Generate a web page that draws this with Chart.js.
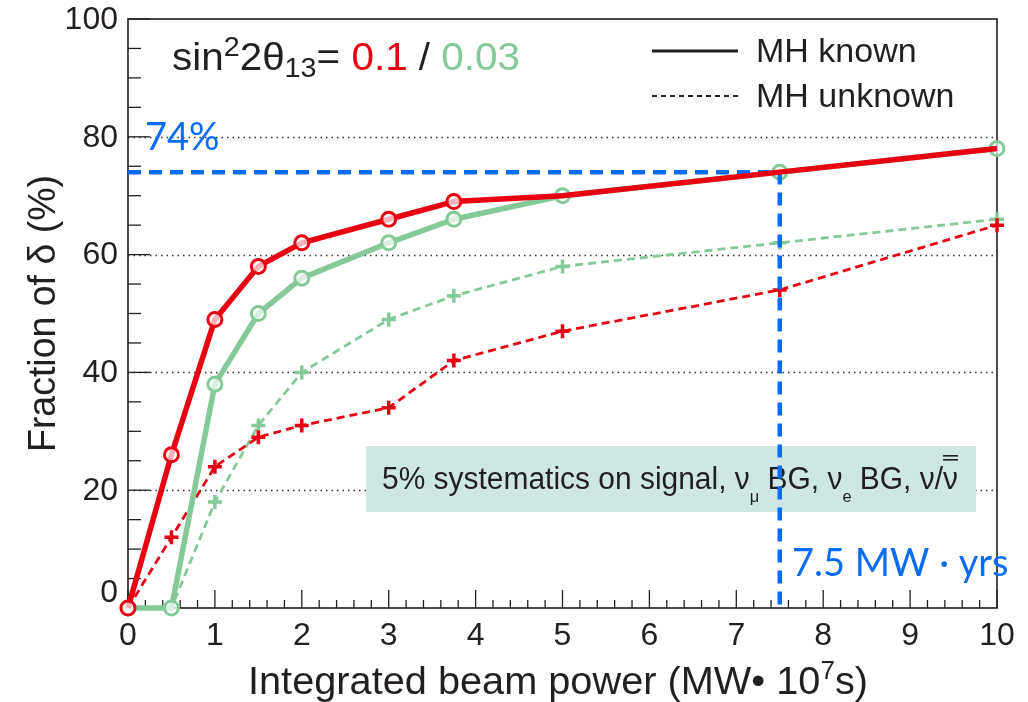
<!DOCTYPE html>
<html lang="en">
<head>
<meta charset="UTF-8">
<title>Fraction of delta vs integrated beam power</title>
<script src="https://cdn.jsdelivr.net/npm/chart.js@4.4.0/dist/chart.umd.min.js"></script>
<style>
  html, body { margin: 0; padding: 0; background: #fff; }
  #wrap { width: 1028px; height: 702px; }
</style>
</head>
<body>
<div id="wrap"><canvas id="c" width="1028" height="702"></canvas></div>
<script>
// values
const beamPower    = [0, 0.5, 1, 1.5, 2, 3, 3.75, 5, 7.5, 10];
const knownLarge   = [0, 26, 49, 58, 62, 66, 69, 70, 74, 78];   // sin^2 2θ13 = 0.1, MH known
const knownSmall   = [0, 0, 38, 50, 56, 62, 66, 70, 74, 78];    // sin^2 2θ13 = 0.03, MH known
const unknownLarge = [0, 12, 24, 29, 31, 34, 42, 47, 54, 65];   // 0.1, MH unknown
const unknownSmall = [0, 0, 18, 31, 40, 49, 53, 58, 62, 66];    // 0.03, MH unknown
const guideX = [0, 7.5, 7.5];
const guideY = [74, 74, 0];
const xTicks = [0, 1, 2, 3, 4, 5, 6, 7, 8, 9, 10];
const yTicks = [0, 20, 40, 60, 80, 100];
const yGrid  = [20, 40, 60, 80];

const RED = 'rgb(232,0,18)';
const GREEN = 'rgb(134,201,153)';
const BLUE = 'rgb(10,108,245)';
const INK = '#231f20';
const SANS = '"Liberation Sans", Arial, sans-serif';
const HUMAN = 'Lato, "Open Sans", sans-serif';

const pts = (xs, ys) => xs.map((x, i) => ({ x: x, y: ys[i] }));

function drawRuns(ctx, x, y, runs) {
  let cx = x;
  runs.forEach(r => {
    ctx.font = (r.size || 36) + 'px ' + (r.family || SANS);
    ctx.fillStyle = r.color || INK;
    ctx.fillText(r.t, cx, y + (r.dy || 0));
    r.x0 = cx;
    r.w = ctx.measureText(r.t).width;
    cx += r.w;
  });
  return cx - x;
}

function runsWidth(ctx, runs) {
  let w = 0;
  runs.forEach(r => { ctx.font = (r.size || 36) + 'px ' + (r.family || SANS); w += ctx.measureText(r.t).width; });
  return w;
}

// draw runs squeezed/stretched horizontally to a target width
function fitRuns(ctx, x, y, runs, target) {
  const w = runsWidth(ctx, runs);
  ctx.save();
  ctx.translate(x, y);
  ctx.scale(target / w, 1);
  drawRuns(ctx, 0, 0, runs);
  ctx.restore();
}

const frame = {
  id: 'frame',
  beforeDatasetsDraw(chart) {
    const { ctx, chartArea: a, scales: { x, y } } = chart;
    ctx.save();
    // dotted grid
    ctx.strokeStyle = '#333';
    ctx.lineWidth = 1.3;
    ctx.setLineDash([1.5, 4]);
    yGrid.forEach(v => {
      const py = Math.round(y.getPixelForValue(v)) + 0.5;
      ctx.beginPath(); ctx.moveTo(a.left, py); ctx.lineTo(a.right, py); ctx.stroke();
    });
    ctx.setLineDash([]);
    // frame
    ctx.strokeStyle = INK;
    ctx.lineWidth = 1.6;
    ctx.strokeRect(a.left, a.top, a.right - a.left, a.bottom - a.top);
    // inward ticks
    ctx.lineWidth = 1.3;
    for (let v = 0; v <= 100.01; v += 5) {
      const py = y.getPixelForValue(v);
      const len = (Math.round(v) % 20 === 0) ? 22 : 13;
      ctx.beginPath(); ctx.moveTo(a.left, py); ctx.lineTo(a.left + len, py); ctx.stroke();
    }
    for (let i = 0; i <= 50; i++) {
      const px = x.getPixelForValue(i * 0.2);
      const len = (i % 5 === 0) ? 18 : 8;
      ctx.beginPath(); ctx.moveTo(px, a.bottom); ctx.lineTo(px, a.bottom - len); ctx.stroke();
    }
    // y tick labels (the zero sits a little above the axis)
    ctx.font = '32px ' + SANS;
    ctx.fillStyle = INK;
    ctx.textAlign = 'right';
    ctx.textBaseline = 'middle';
    yTicks.forEach(v => {
      const py = y.getPixelForValue(v) + (v === 0 ? -15 : 1);
      ctx.fillText(String(v), a.left - 10, py);
    });
    ctx.textAlign = 'left';
    ctx.textBaseline = 'alphabetic';

    // systematics box
    ctx.fillStyle = 'rgb(206,230,228)';
    ctx.fillRect(366, 446, 610, 66);
    const runs = [
      { t: '5% systematics on signal, ν', size: 31 },
      { t: 'μ', size: 17, dy: 13 },
      { t: ' BG, ν', size: 31 },
      { t: 'e', size: 17, dy: 13 },
      { t: ' BG, ν/ν', size: 31 }
    ];
    const w = runsWidth(ctx, runs);
    ctx.save();
    ctx.translate(382, 489);
    ctx.scale(576 / w, 1);
    drawRuns(ctx, 0, 0, runs);
    const last = runs[runs.length - 1];
    ctx.font = '31px ' + SANS;
    const nuW = ctx.measureText('ν').width;
    ctx.fillStyle = INK;
    ctx.fillRect(last.x0 + last.w - nuW, -34, nuW, 1.6);
    ctx.fillRect(last.x0 + last.w - nuW, -30, nuW, 1.6);
    ctx.restore();
    ctx.restore();
  },
  afterDraw(chart) {
    const { ctx } = chart;
    ctx.save();
    ctx.textBaseline = 'alphabetic';
    // title formula
    fitRuns(ctx, 172, 70, [
      { t: 'sin', size: 38 },
      { t: '2', size: 27, dy: -14 },
      { t: '2θ', size: 38 },
      { t: '13', size: 27, dy: 7 },
      { t: '= ', size: 38 },
      { t: '0.1', size: 38, color: RED },
      { t: ' / ', size: 38 },
      { t: '0.03', size: 38, color: GREEN }
    ], 348);
    // legend
    ctx.strokeStyle = INK;
    ctx.lineWidth = 3;
    ctx.beginPath(); ctx.moveTo(652, 51); ctx.lineTo(738, 51); ctx.stroke();
    ctx.lineWidth = 2;
    ctx.setLineDash([5, 4]);
    ctx.beginPath(); ctx.moveTo(652, 96); ctx.lineTo(738, 96); ctx.stroke();
    ctx.setLineDash([]);
    drawRuns(ctx, 756, 62, [{ t: 'MH known', size: 34 }]);
    drawRuns(ctx, 756, 107, [{ t: 'MH unknown', size: 34 }]);
    // blue annotations
    drawRuns(ctx, 145, 150, [{ t: '74%', size: 38, family: HUMAN, color: BLUE }]);
    drawRuns(ctx, 792, 576, [{ t: '7.5 MW · yrs', size: 38, family: HUMAN, color: BLUE }]);
    // axis titles
    fitRuns(ctx, 248, 694, [
      { t: 'Integrated beam power (MW• 10', size: 38 },
      { t: '7', size: 25, dy: -15 },
      { t: 's)', size: 38 }
    ], 620);
    ctx.save();
    ctx.translate(55, 452);
    ctx.rotate(-Math.PI / 2);
    fitRuns(ctx, 0, 0, [{ t: 'Fraction of δ (%)', size: 38 }], 277);
    ctx.restore();
    ctx.restore();
  }
};

const circles = { pointStyle: 'circle', pointBorderWidth: 3, pointBackgroundColor: 'rgba(255,255,255,0.7)' };
const crosses = { pointStyle: 'cross', pointBorderWidth: 3.5 };

new Chart(document.getElementById('c'), {
  type: 'line',
  data: {
    datasets: [
      Object.assign({
        label: '0.1 MH known', data: pts(beamPower, knownLarge),
        borderColor: RED, pointBorderColor: RED, borderWidth: 5.5,
        pointRadius: [7, 7, 7, 7, 7, 7, 7, 0, 0, 0], order: 1
      }, circles),
      {
        label: 'guide', data: pts(guideX, guideY),
        borderColor: BLUE, borderWidth: 4.5, borderDash: [13, 8], pointRadius: 0, order: 2
      },
      Object.assign({
        label: '0.03 MH known', data: pts(beamPower, knownSmall),
        borderColor: GREEN, pointBorderColor: GREEN, borderWidth: 5.5, pointRadius: 7, order: 3
      }, circles),
      Object.assign({
        label: '0.1 MH unknown', data: pts(beamPower, unknownLarge),
        borderColor: RED, pointBorderColor: RED, borderWidth: 2.8, borderDash: [8, 5],
        pointRadius: [0, 7, 7, 7, 7, 7, 7, 7, 7, 7], order: 4
      }, crosses),
      Object.assign({
        label: '0.03 MH unknown', data: pts(beamPower, unknownSmall),
        borderColor: GREEN, pointBorderColor: GREEN, borderWidth: 2.8, borderDash: [8, 5],
        pointRadius: [0, 0, 7, 7, 7, 7, 7, 7, 7, 7], order: 5
      }, crosses)
    ]
  },
  options: {
    responsive: false,
    animation: false,
    devicePixelRatio: 1,
    clip: false,
    layout: { padding: { top: 19, right: 31, left: 0, bottom: 0 } },
    elements: { line: { tension: 0, borderJoinStyle: 'round' } },
    plugins: { legend: { display: false }, tooltip: { enabled: false } },
    scales: {
      x: {
        type: 'linear', min: 0, max: 10,
        afterBuildTicks: s => { s.ticks = xTicks.map(v => ({ value: v })); },
        afterFit: s => { s.height = 94; },
        grid: { display: false, drawTicks: false },
        border: { display: false },
        ticks: { font: { size: 32, family: SANS }, color: INK, padding: 9, maxRotation: 0, autoSkip: false }
      },
      y: {
        type: 'linear', min: 0, max: 100,
        afterBuildTicks: s => { s.ticks = yTicks.map(v => ({ value: v })); },
        afterFit: s => { s.width = 128; },
        grid: { display: false, drawTicks: false },
        border: { display: false },
        ticks: { display: false }
      }
    }
  },
  plugins: [frame]
});
</script>
</body>
</html>
